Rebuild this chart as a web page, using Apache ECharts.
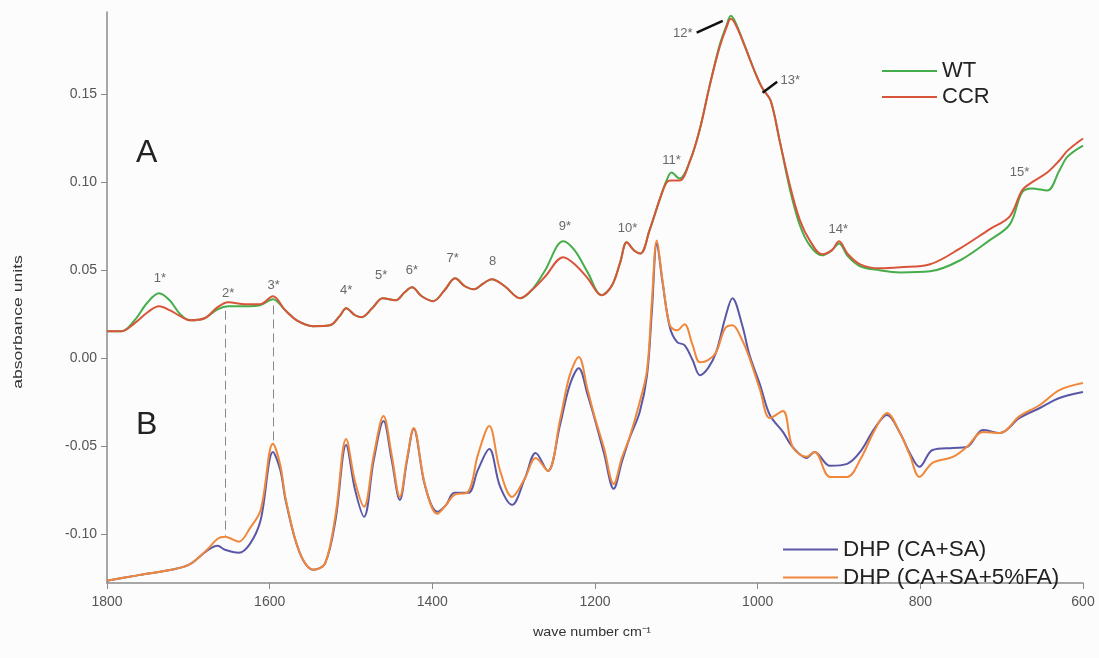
<!DOCTYPE html>
<html>
<head>
<meta charset="utf-8">
<script src="https://cdn.jsdelivr.net/npm/echarts@6/dist/echarts.min.js"></script>
<style>
html,body{margin:0;padding:0;background:#fcfcfc;}
#chart{width:1099px;height:658px;}
</style>
</head>
<body>
<div id="chart"></div>
<script>
// ---- Data (wave number cm-1, absorbance units) ----
const waveA = [1800,1782,1766,1750,1736,1723,1710,1698,1680,1664,1651,1630,1612,1596,1581,1565,1547,1526,1514,1506,1495,1487,1474,1461,1445,1434,1425,1413,1399,1385,1372,1360,1349,1337,1327,1311,1292,1278,1262,1239,1225,1209,1192,1179,1169,1161,1152,1144,1133,1120,1112,1106,1096,1083,1071,1059,1047,1038,1033,1027,1016,1003,994,984,973,960,948,936,921,909,900,889,874,850,825,788,751,715,690,675,663,644,629,619,600];
const wtValues = [0.0153,0.0153,0.0216,0.0318,0.0369,0.0329,0.0250,0.0216,0.0227,0.0278,0.0295,0.0295,0.0301,0.0335,0.0273,0.0210,0.0182,0.0187,0.0239,0.0284,0.0244,0.0233,0.0284,0.0341,0.0329,0.0375,0.0403,0.0352,0.0324,0.0386,0.0454,0.0409,0.0392,0.0426,0.0449,0.0409,0.0341,0.0386,0.0494,0.0665,0.0613,0.0488,0.0358,0.0415,0.0545,0.0659,0.0613,0.0596,0.0727,0.0909,0.1011,0.1056,0.1022,0.1125,0.1306,0.1551,0.1778,0.1897,0.1948,0.1908,0.1778,0.1624,0.1534,0.1465,0.1238,0.0954,0.0755,0.0642,0.0585,0.0613,0.0653,0.0579,0.0523,0.0500,0.0488,0.0494,0.0557,0.0670,0.0761,0.0943,0.0966,0.0954,0.1068,0.1147,0.1210];
const ccrValues = [0.0153,0.0153,0.0199,0.0261,0.0295,0.0273,0.0239,0.0216,0.0227,0.0290,0.0318,0.0307,0.0307,0.0352,0.0273,0.0210,0.0182,0.0187,0.0239,0.0284,0.0244,0.0233,0.0284,0.0341,0.0329,0.0375,0.0403,0.0352,0.0324,0.0386,0.0454,0.0409,0.0392,0.0426,0.0449,0.0409,0.0341,0.0386,0.0460,0.0574,0.0534,0.0454,0.0358,0.0415,0.0545,0.0659,0.0613,0.0596,0.0727,0.0909,0.1000,0.1011,0.1011,0.1125,0.1306,0.1551,0.1766,0.1886,0.1931,0.1897,0.1778,0.1624,0.1534,0.1465,0.1238,0.0977,0.0784,0.0670,0.0591,0.0613,0.0665,0.0591,0.0534,0.0511,0.0517,0.0534,0.0625,0.0733,0.0807,0.0954,0.1000,0.1056,0.1125,0.1181,0.1250];

const waveB = [1800,1764,1721,1699,1677,1664,1655,1638,1624,1611,1596,1587,1580,1563,1546,1532,1519,1506,1495,1484,1472,1460,1450,1440,1431,1423,1409,1394,1383,1373,1356,1344,1330,1317,1302,1286,1273,1258,1243,1231,1220,1209,1200,1189,1177,1167,1157,1145,1136,1130,1124,1117,1108,1099,1090,1080,1071,1061,1051,1040,1031,1019,1010,997,985,969,957,940,930,911,890,874,856,841,825,813,801,785,760,743,723,702,678,653,629,600];
const dhpCaSa = [-0.1267,-0.1238,-0.1204,-0.1176,-0.1096,-0.1068,-0.1091,-0.1108,-0.1056,-0.0920,-0.0534,-0.0636,-0.0818,-0.1108,-0.1204,-0.1170,-0.0920,-0.0494,-0.0750,-0.0903,-0.0579,-0.0358,-0.0579,-0.0807,-0.0579,-0.0403,-0.0727,-0.0875,-0.0835,-0.0767,-0.0767,-0.0636,-0.0517,-0.0727,-0.0835,-0.0682,-0.0540,-0.0642,-0.0381,-0.0153,-0.0057,-0.0210,-0.0352,-0.0540,-0.0744,-0.0591,-0.0449,-0.0307,-0.0097,0.0273,0.0653,0.0432,0.0176,0.0091,0.0074,-0.0011,-0.0097,-0.0057,0.0034,0.0227,0.0341,0.0187,0.0017,-0.0153,-0.0324,-0.0420,-0.0506,-0.0568,-0.0534,-0.0613,-0.0602,-0.0534,-0.0398,-0.0324,-0.0426,-0.0540,-0.0619,-0.0523,-0.0511,-0.0506,-0.0409,-0.0426,-0.0341,-0.0284,-0.0227,-0.0193];
const dhpCaSaFa = [-0.1267,-0.1238,-0.1204,-0.1176,-0.1091,-0.1028,-0.1017,-0.1045,-0.0966,-0.0863,-0.0488,-0.0608,-0.0807,-0.1108,-0.1204,-0.1170,-0.0892,-0.0460,-0.0704,-0.0846,-0.0551,-0.0329,-0.0551,-0.0790,-0.0568,-0.0398,-0.0721,-0.0886,-0.0835,-0.0778,-0.0761,-0.0551,-0.0386,-0.0636,-0.0790,-0.0682,-0.0568,-0.0642,-0.0352,-0.0097,0.0006,-0.0182,-0.0341,-0.0511,-0.0716,-0.0568,-0.0443,-0.0250,-0.0068,0.0329,0.0670,0.0443,0.0187,0.0159,0.0193,0.0074,-0.0023,-0.0011,0.0034,0.0170,0.0187,0.0102,0.0000,-0.0182,-0.0341,-0.0301,-0.0506,-0.0562,-0.0534,-0.0676,-0.0676,-0.0579,-0.0409,-0.0312,-0.0426,-0.0551,-0.0676,-0.0596,-0.0562,-0.0506,-0.0420,-0.0426,-0.0330,-0.0267,-0.0182,-0.0142];

const yTicks = [-0.10,-0.05,0.00,0.05,0.10,0.15];
const xTicks = [1800,1600,1400,1200,1000,800,600];

// band annotations [wave number, absorbance, label]
const bandLabels = [
  [1735,0.0454,'1*'],[1651,0.0369,'2*'],[1595,0.0415,'3*'],[1506,0.0386,'4*'],
  [1463,0.0471,'5*'],[1425,0.0500,'6*'],[1375,0.0568,'7*'],[1326,0.0551,'8'],
  [1237,0.0750,'9*'],[1160,0.0738,'10*'],[1106,0.1125,'11*'],[1092,0.1846,'12*'],
  [960,0.1580,'13*'],[901,0.0733,'14*'],[678,0.1056,'15*']
];
const leaders = [ [[1075,0.1852],[1043,0.1920]], [[994,0.1511],[976,0.1573]] ];
const dashedGuides = [ [[1654,0.027],[1654,-0.101]], [[1596,0.030],[1596,-0.049]] ];

const zip = (xs, ys) => xs.map((x, i) => [x, ys[i]]);

const chart = echarts.init(document.getElementById('chart'), null, {renderer: 'canvas'});
const axisGray = '#8a8a8a';
const FONT = 'Liberation Sans, Arial, sans-serif';
const tickFont = {fontFamily: FONT, fontSize: 14, color: '#555'};

chart.setOption({
  backgroundColor: '#fcfcfc',
  animation: false,
  grid: {left: 107, right: 16, top: 12, bottom: 75},
  xAxis: {
    type: 'value', inverse: true, min: 600, max: 1800,
    axisLine: {show: true, onZero: false, lineStyle: {color: axisGray, width: 1.5}},
    axisTick: {show: true, customValues: xTicks, length: 6, lineStyle: {color: axisGray}},
    axisLabel: Object.assign({customValues: xTicks, margin: 12, formatter: v => String(v)}, tickFont),
    splitLine: {show: false}
  },
  yAxis: {
    type: 'value', min: -0.128, max: 0.197,
    axisLine: {show: true, onZero: false, lineStyle: {color: axisGray, width: 1.5}},
    axisTick: {show: true, customValues: yTicks, length: 6, lineStyle: {color: axisGray}},
    axisLabel: Object.assign({customValues: yTicks, margin: 10, formatter: v => v.toFixed(2)}, tickFont),
    splitLine: {show: false}
  },
  legend: [
    {data: ['WT','CCR'], orient: 'vertical', left: 877, top: 55, itemWidth: 55, itemHeight: 2, itemGap: 4, icon: 'rect',
     textStyle: {fontFamily: FONT, fontSize: 22, color: '#222'}},
    {data: ['DHP (CA+SA)','DHP (CA+SA+5%FA)'], orient: 'vertical', left: 778, top: 533, itemWidth: 55, itemHeight: 2, itemGap: 5, icon: 'rect',
     textStyle: {fontFamily: FONT, fontSize: 22.5, color: '#222'}}
  ],
  graphic: [
    {type: 'text', left: 136, top: 137, style: {text: 'A', fontSize: 32, fontFamily: FONT, fill: '#222'}},
    {type: 'text', left: 136, top: 409, style: {text: 'B', fontSize: 32, fontFamily: FONT, fill: '#222'}},
    {type: 'text', x: 18, y: 322, rotation: Math.PI / 2, scaleX: 1.35,
     style: {text: 'absorbance units', fontSize: 13, fontFamily: FONT, fill: '#333', align: 'center', verticalAlign: 'middle'}},
    {type: 'text', x: 592, y: 632, scaleX: 1.1,
     style: {text: 'wave number cm\u207B\u00B9', fontSize: 13, fontFamily: FONT, fill: '#333', align: 'center', verticalAlign: 'middle'}}
  ],
  series: [
    {name: 'WT', type: 'line', data: zip(waveA, wtValues), showSymbol: false, smooth: 0.35,
     lineStyle: {color: '#45ad4a', width: 2}, itemStyle: {color: '#45ad4a'}, z: 3,
     markLine: {silent: true, symbol: 'none', label: {show: false},
       lineStyle: {color: '#111', width: 2.5, type: 'solid'},
       data: leaders.map(l => [{coord: l[0]}, {coord: l[1]}])}},
    {name: 'CCR', type: 'line', data: zip(waveA, ccrValues), showSymbol: false, smooth: 0.35,
     lineStyle: {color: '#d9553a', width: 2}, itemStyle: {color: '#d9553a'}, z: 4},
    {name: 'DHP (CA+SA)', type: 'line', data: zip(waveB, dhpCaSa), showSymbol: false, smooth: 0.35,
     lineStyle: {color: '#5a58a6', width: 2}, itemStyle: {color: '#5a58a6'}, z: 3,
     markLine: {silent: true, symbol: 'none', label: {show: false},
       lineStyle: {color: '#888', width: 1, type: [9, 5]},
       data: dashedGuides.map(l => [{coord: l[0]}, {coord: l[1]}])}},
    {name: 'DHP (CA+SA+5%FA)', type: 'line', data: zip(waveB, dhpCaSaFa), showSymbol: false, smooth: 0.35,
     lineStyle: {color: '#f0873a', width: 2}, itemStyle: {color: '#f0873a'}, z: 4},
    {name: 'bands', type: 'scatter', symbolSize: 0, silent: true, z: 5,
     data: bandLabels.map(b => ({value: [b[0], b[1]], name: b[2]})),
     label: {show: true, position: 'inside', formatter: '{b}', fontFamily: FONT, fontSize: 13, color: '#444'}}
  ]
});
</script>
</body>
</html>
